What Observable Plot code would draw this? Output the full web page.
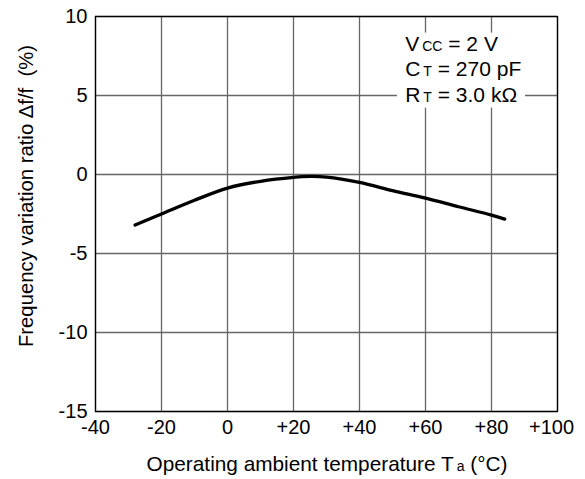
<!DOCTYPE html>
<html><head><meta charset="utf-8">
<script src="https://cdn.jsdelivr.net/npm/d3@7"></script>
<script src="https://cdn.jsdelivr.net/npm/@observablehq/plot@0.6"></script>
<style>body{margin:0;background:#fff} svg{display:block}</style>
</head><body><div id="chart"></div>
<script>
const temperature = [-28, -20, -10, 0, 10, 20, 25, 30, 40, 50, 60, 70, 80, 84];
const ratio = [-3.2, -2.5, -1.63, -0.86, -0.43, -0.18, -0.12, -0.16, -0.5, -1.02, -1.5, -2.04, -2.57, -2.82];
const xTicks = [-40, -20, 0, 20, 40, 60, 80, 100];
const xTickLabels = ["-40", "-20", "0", "+20", "+40", "+60", "+80", "+100"];
const yTicks = [-15, -10, -5, 0, 5, 10];
const yTickLabels = ["-15", "-10", "-5", "0", "5", "10"];
const noteLines = [
  {main: "V", sub: "CC", rest: " = 2 V"},
  {main: "C", sub: "T", rest: " = 270 pF"},
  {main: "R", sub: "T", rest: " = 3.0 kΩ"}
];
const xTitle = {main: "Operating ambient temperature T", sub: "a", rest: " (°C)"};
const yTitle = "Frequency variation ratio Δf/f  (%)";

const data = temperature.map((t, i) => ({t, r: ratio[i]}));
const FONT = "Liberation Sans, Arial, Helvetica, sans-serif";
const fmtX = (d) => xTickLabels[xTicks.indexOf(d)];

const plot = Plot.plot({
  width: 585, height: 479,
  marginLeft: 95, marginRight: 28, marginTop: 16, marginBottom: 68,
  style: {fontFamily: FONT, fontSize: "20px", color: "#000", background: "#fff"},
  x: {domain: [-40, 100], label: null},
  y: {domain: [-15, 10], label: null},
  marks: [
    Plot.gridX(xTicks, {stroke: "#666", strokeOpacity: 1, strokeWidth: 1.3}),
    Plot.gridY(yTicks, {stroke: "#666", strokeOpacity: 1, strokeWidth: 1.3}),
    Plot.rect([{x1: 51.5, x2: 90.3, y1: 4.2, y2: 8.95}], {x1: "x1", x2: "x2", y1: "y1", y2: "y2", fill: "white"}),
    Plot.frame({stroke: "#000", strokeWidth: 1.3}),
    Plot.line(data, {x: "t", y: "r", curve: "catmull-rom", stroke: "#000", strokeWidth: 3.3}),
    Plot.axisX({ticks: xTicks.slice(0, -1), tickFormat: fmtX, tickSize: 0, tickPadding: 8, label: null, fontSize: 20}),
    Plot.axisX({ticks: xTicks.slice(-1), tickFormat: fmtX, tickSize: 0, tickPadding: 8, label: null, fontSize: 20, dx: -6}),
    Plot.axisY({ticks: yTicks, tickFormat: (d) => yTickLabels[yTicks.indexOf(d)], tickSize: 0, tickPadding: 8, label: null, fontSize: 20})
  ]
});

const svg = d3.select(plot);
const xs = plot.scale("x");

function subText(g, parts, subSize) {
  g.append("tspan").text(parts.main);
  g.append("tspan").attr("font-size", subSize).attr("dx", 3).text(parts.sub);
  g.append("tspan").text(parts.rest);
}

// Condition note
const noteX = xs.apply(54);
noteLines.forEach((ln, i) => {
  const t = svg.append("text")
    .attr("x", noteX).attr("y", 51 + i * 25.4)
    .attr("text-anchor", "start")
    .attr("font-family", FONT).attr("font-size", 21).attr("fill", "#000");
  subText(t, ln, 14);
});

// X title
const xt = svg.append("text")
  .attr("x", (xs.apply(-40) + xs.apply(100)) / 2 + 1).attr("y", 471)
  .attr("text-anchor", "middle")
  .attr("font-family", FONT).attr("font-size", 20.8).attr("fill", "#000");
subText(xt, xTitle, 14);

// Y title
svg.append("text")
  .attr("transform", "translate(33,196) rotate(-90)")
  .attr("text-anchor", "middle")
  .attr("font-family", FONT).attr("font-size", 20.3).attr("fill", "#000")
  .style("white-space", "pre")
  .text(yTitle);

document.getElementById("chart").appendChild(plot);
</script>
</body></html>
